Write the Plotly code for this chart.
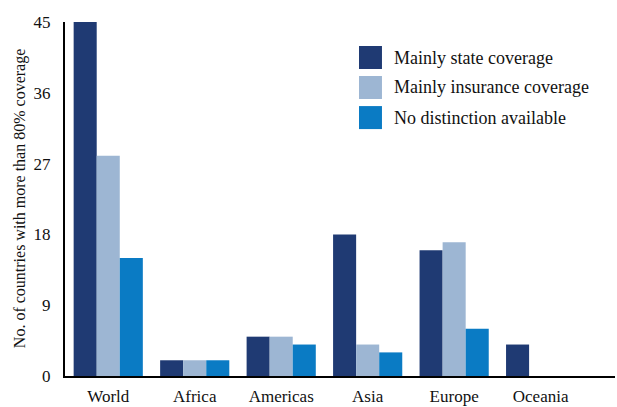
import plotly.graph_objects as go

regions = ["World", "Africa", "Americas", "Asia", "Europe", "Oceania"]
series_names = ["Mainly state coverage", "Mainly insurance coverage", "No distinction available"]
state = [45, 2, 5, 18, 16, 4]
insurance = [28, 2, 5, 4, 17, 0]
no_distinction = [15, 2, 4, 3, 6, 0]
y_ticks = [0, 9, 18, 27, 36, 45]
colors = ["#1f3a73", "#9db6d3", "#0a7bc4"]

FONT = "Liberation Serif"

fig = go.Figure()
for name, vals, col in zip(series_names, [state, insurance, no_distinction], colors):
    fig.add_trace(go.Bar(x=regions, y=vals, name=name, marker=dict(color=col, line=dict(width=0)),
                         showlegend=False))

# legend swatches and labels drawn in paper space
sw_x0, sw_w = 0.5345, 0.0418
row_y = [0.8997, 0.815, 0.730]
row_h = 0.065
for name, col, yc in zip(series_names, colors, row_y):
    fig.add_shape(type="rect", xref="paper", yref="paper",
                  x0=sw_x0, x1=sw_x0 + sw_w, y0=yc - row_h / 2, y1=yc + row_h / 2,
                  fillcolor=col, line=dict(width=0))
    fig.add_annotation(xref="paper", yref="paper", x=sw_x0 + sw_w + 0.019, y=yc,
                       text=name, showarrow=False, xanchor="left", yanchor="middle",
                       font=dict(family=FONT, size=18, color="#111"))

# rotated axis title
fig.add_annotation(xref="paper", yref="paper", x=-0.0815, y=0.5,
                   text="No. of countries with more than 80% coverage", textangle=-90,
                   showarrow=False, xanchor="center", yanchor="middle",
                   font=dict(family=FONT, size=16, color="#111"))

fig.update_layout(
    width=617, height=407,
    margin=dict(l=65, r=2, t=22, b=31),
    paper_bgcolor="white", plot_bgcolor="white",
    barmode="group", bargap=0.2, bargroupgap=0,
    font=dict(family=FONT, size=17, color="#111"),
    xaxis=dict(range=[-0.5, 5.86], showline=True, linecolor="black", linewidth=2,
               ticks="outside", ticklen=4, tickcolor="rgba(0,0,0,0)", automargin=False,
               tickfont=dict(family=FONT, size=17), showgrid=False),
    yaxis=dict(range=[0, 45], tickvals=y_ticks, showline=True, linecolor="black", linewidth=2,
               ticks="outside", ticklen=9, tickcolor="rgba(0,0,0,0)", showgrid=False, zeroline=False,
               automargin=False, tickfont=dict(family=FONT, size=17)),
)

fig.write_html("out.html")
